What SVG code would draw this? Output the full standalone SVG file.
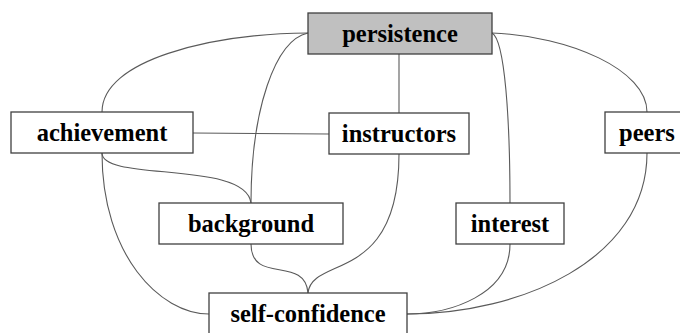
<svg xmlns="http://www.w3.org/2000/svg" width="680" height="333" viewBox="0 0 680 333">
<style>
.box{fill:#fff;stroke:#404040;stroke-width:1.3}
.hl{fill:#c0c0c0}
.lbl{font-family:"Liberation Serif","Times New Roman",serif;font-weight:bold;font-size:24.5px;text-anchor:middle;fill:#000}
.c{fill:none;stroke:#5a5a5a;stroke-width:1.1}
</style>
<rect width="680" height="333" fill="#fff"/>
<g id="connectors">
<path class="c" d="M308,33 C210,34 102,60 102,112"/>
<path class="c" d="M308,33 C275,40 251,110 251,203"/>
<path class="c" d="M399,54 L399,113"/>
<path class="c" d="M492,33 C505,40 510,120 510,203"/>
<path class="c" d="M492,33 C570,36 647,70 647,112"/>
<path class="c" d="M193,133 L329,134"/>
<path class="c" d="M102,153 C102,182 246,160 251,203"/>
<path class="c" d="M102,153 C102,255 160,314 209,314"/>
<path class="c" d="M251,244 C251,285 305,255 308,293"/>
<path class="c" d="M399,154 C399,285 312,255 308,293"/>
<path class="c" d="M510,244 C510,295 450,314 407,314"/>
<path class="c" d="M647,153 C647,260 520,314 407,314"/>
</g>
<g id="persistence"><rect class="box hl" x="308" y="13" width="184" height="41"/><text class="lbl" x="400" y="42">persistence</text></g>
<g id="achievement"><rect class="box" x="11" y="112" width="182" height="41"/><text class="lbl" x="102" y="141">achievement</text></g>
<g id="instructors"><rect class="box" x="329" y="113" width="140" height="41"/><text class="lbl" x="399" y="142">instructors</text></g>
<g id="peers"><rect class="box" x="605" y="112" width="84" height="41"/><text class="lbl" x="647" y="141">peers</text></g>
<g id="background"><rect class="box" x="159" y="203" width="184" height="41"/><text class="lbl" x="251" y="232">background</text></g>
<g id="interest"><rect class="box" x="456" y="203" width="108" height="41"/><text class="lbl" x="510" y="232">interest</text></g>
<g id="self-confidence"><rect class="box" x="209" y="293" width="198" height="45"/><text class="lbl" x="308" y="322">self-confidence</text></g>
</svg>
